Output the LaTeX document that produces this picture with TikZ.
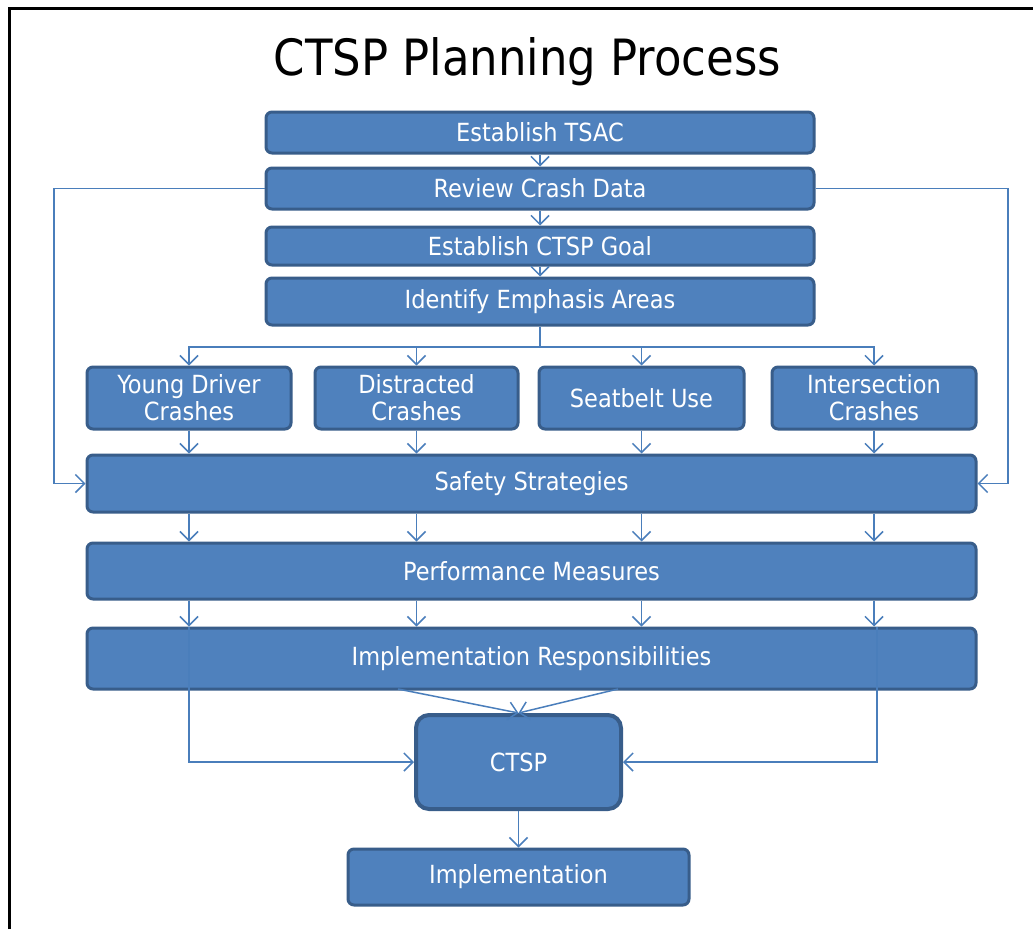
\documentclass[tikz,border=0pt]{standalone}
\usepackage{fontspec}
\setmainfont{DejaVu Sans Condensed}
\usetikzlibrary{arrows.meta}
\definecolor{boxfill}{HTML}{4F81BD}
\definecolor{boxline}{HTML}{385D8A}
\definecolor{conn}{HTML}{4A7EBB}
\begin{document}
\begin{tikzpicture}[x=1pt,y=-1pt,
  box/.style={draw=boxline, line width=3pt, fill=boxfill, rounded corners=6pt,
    text=white, font=\fontsize{25}{27}\selectfont, align=center, inner sep=0pt},
  bigbox/.style={box, line width=4pt, rounded corners=13pt},
  arr/.style={draw=conn, line width=1.5pt, -{Straight Barb[length=9pt,width=18pt]}},
  ln/.style={draw=conn, line width=1.5pt}]
\useasboundingbox (0,0) rectangle (1033,929);
\fill[white] (0,0) rectangle (1033,929);
\draw[line width=3pt, black] (9.5,929) -- (9.5,8.5) -- (1033,8.5);
\node[font=\fontsize{50}{56}\selectfont] (title) at (527.5,62) {CTSP Planning Process};

\node[box, minimum width=548pt, minimum height=41pt] (tsac) at (540,132.5) {Establish TSAC};
\node[box, minimum width=548pt, minimum height=41pt] (review) at (540,188.5) {Review Crash Data};
\node[box, minimum width=548pt, minimum height=38pt] (goal) at (540,246) {Establish CTSP Goal};
\node[box, minimum width=548pt, minimum height=47pt] (emph) at (540,301.5) {Identify Emphasis Areas};

\node[box, minimum width=204pt, minimum height=62pt] (young) at (189,398) {Young Driver\\Crashes};
\node[box, minimum width=203pt, minimum height=62pt] (distr) at (416.5,398) {Distracted\\Crashes};
\node[box, minimum width=205pt, minimum height=62pt] (seat) at (641.5,398) {Seatbelt Use};
\node[box, minimum width=204pt, minimum height=62pt] (inter) at (874,398) {Intersection\\Crashes};

\node[box, minimum width=889pt, minimum height=57pt] (safety) at (531.5,483.5) {Safety Strategies};
\node[box, minimum width=889pt, minimum height=56pt] (perf) at (531.5,571) {Performance Measures};
\node[box, minimum width=889pt, minimum height=61pt] (impl) at (531.5,658.5) {Implementation Responsibilities};

\node[bigbox, minimum width=205pt, minimum height=94pt] (ctsp) at (518.5,762) {CTSP};
\node[box, minimum width=341pt, minimum height=56pt] (implementation) at (518.5,877) {Implementation};

% top chain
\draw[arr] (tsac) -- (review);
\draw[arr] (review) -- (goal);
\draw[arr] (goal) -- (emph);
\coordinate (split) at (540,347);
\draw[ln] (emph) -- (split);
\draw[arr] (split) -| (young);
\draw[arr] (split) -| (distr);
\draw[arr] (split) -| (seat);
\draw[arr] (split) -| (inter);

% side loops
\coordinate (lft) at (54,188.5);
\coordinate (rgt) at (1008,188.5);
\draw[arr] (review.west) -- (lft) |- (safety.west);
\draw[arr] (review.east) -- (rgt) |- (safety.east);

% area boxes to safety and down
\foreach \n in {young,distr,seat,inter}{
  \draw[arr] (\n) -- (\n |- safety.north);
  \draw[arr] (\n |- safety.south) -- (\n |- perf.north);
  \draw[arr] (\n |- perf.south) -- (\n |- impl.north);
}

% to CTSP
\draw[arr] (398,689) -- (ctsp.north);
\draw[arr] (618,689) -- (ctsp.north);
\draw[arr] (young |- impl.north) |- (ctsp.west);
\draw[arr] ([xshift=3pt]inter |- impl.north) |- (ctsp.east);
\draw[arr] (ctsp) -- (implementation);
\end{tikzpicture}
\end{document}
